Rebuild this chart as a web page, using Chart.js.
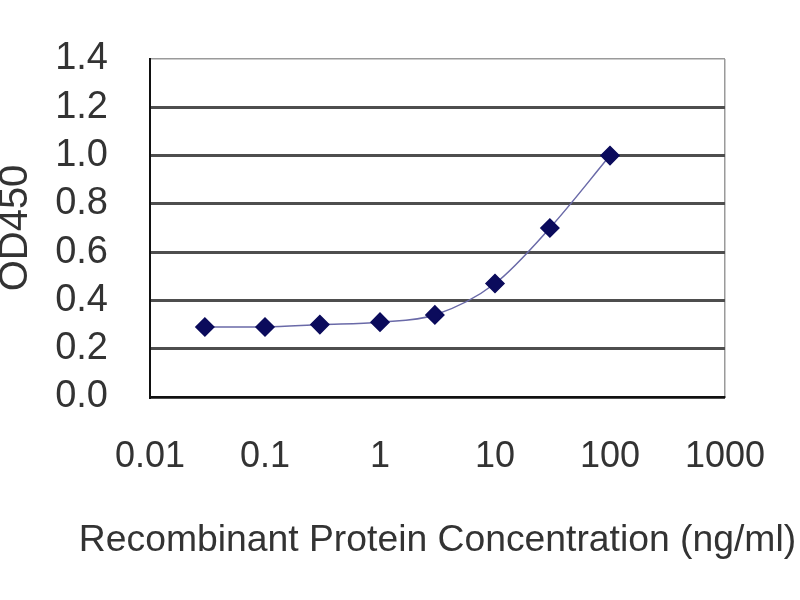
<!DOCTYPE html>
<html>
<head>
<meta charset="utf-8">
<script src="https://cdn.jsdelivr.net/npm/chart.js@4.4.1/dist/chart.umd.min.js"></script>
<style>
  html, body { margin: 0; padding: 0; background: #fff; }
  #wrap { width: 800px; height: 600px; }
</style>
</head>
<body>
<div id="wrap"><canvas id="myChart" width="800" height="600"></canvas></div>
<script>
// concentrations (ng/ml) and OD450 readings
const concentrations = [0.03, 0.1, 0.3, 1, 3, 10, 30, 100];
const od450 = [0.29, 0.29, 0.30, 0.31, 0.34, 0.47, 0.70, 1.00];
const xTickValues = [0.01, 0.1, 1, 10, 100, 1000];
const xTickLabels = ["0.01", "0.1", "1", "10", "100", "1000"];
const xTitle = "Recombinant Protein Concentration (ng/ml)";
const yTitle = "OD450";

const points = concentrations.map((c, i) => ({ x: c, y: od450[i] }));
const fam = "Arial, 'Liberation Sans', sans-serif";
const textColor = "#333";

// Chart.js squeezes an axis title to the axis width; this one is wider
// than the plot, so it is drawn here at the centre of the x axis.
const wideXTitle = {
  id: "wideXTitle",
  afterDraw(chart) {
    const ctx = chart.ctx;
    const area = chart.chartArea;
    ctx.save();
    ctx.font = "37.3px " + fam;
    ctx.fillStyle = textColor;
    ctx.textAlign = "center";
    ctx.textBaseline = "middle";
    ctx.fillText(xTitle, (area.left + area.right) / 2, 541);
    ctx.restore();
  },
};

new Chart(document.getElementById("myChart").getContext("2d"), {
  type: "line",
  data: {
    datasets: [
      {
        label: yTitle,
        data: points,
        borderColor: "#6a6aa8",
        borderWidth: 1.5,
        pointBackgroundColor: "#0b0b5c",
        pointBorderColor: "#0b0b5c",
        pointStyle: "rectRot",
        pointRadius: 9,
        cubicInterpolationMode: "monotone",
        fill: false,
      },
    ],
  },
  plugins: [wideXTitle],
  options: {
    responsive: false,
    animation: false,
    layout: { padding: { top: 59, right: 75, left: 0, bottom: 0 } },
    plugins: { legend: { display: false }, tooltip: { enabled: false } },
    scales: {
      x: {
        type: "logarithmic",
        min: 0.01,
        max: 1000,
        afterBuildTicks: (scale) => {
          scale.ticks = xTickValues.map((v) => ({ value: v }));
        },
        afterFit: (scale) => {
          scale.height = 203;
          scale.paddingLeft = 0;
          scale.paddingRight = 0;
        },
        ticks: {
          autoSkip: false,
          maxRotation: 0,
          padding: 38,
          color: textColor,
          font: { family: fam, size: 36 },
          callback: (v) => {
            const i = xTickValues.indexOf(v);
            return i >= 0 ? xTickLabels[i] : "";
          },
        },
        grid: {
          drawTicks: false,
          lineWidth: 1.5,
          color: (ctx) => (ctx.tick && ctx.tick.value === 1000 ? "#9a9a9a" : "rgba(0,0,0,0)"),
        },
        border: { color: "#111", width: 2 },
      },
      y: {
        min: 0,
        max: 1.4,
        afterFit: (scale) => {
          scale.width = 150;
          scale.paddingTop = 0;
          scale.paddingBottom = 0;
        },
        ticks: {
          stepSize: 0.2,
          autoSkip: false,
          padding: 42,
          color: textColor,
          font: { family: fam, size: 38 },
          callback: (v) => v.toFixed(1),
        },
        grid: {
          drawTicks: false,
          lineWidth: (ctx) => (ctx.tick && Math.abs(ctx.tick.value - 1.4) < 1e-6 ? 1.5 : 3),
          color: (ctx) => (ctx.tick && Math.abs(ctx.tick.value - 1.4) < 1e-6 ? "#9a9a9a" : "#4e4e4e"),
        },
        border: { color: "#111", width: 2 },
        title: {
          display: true,
          text: yTitle,
          color: textColor,
          font: { family: fam, size: 40, lineHeight: 0.8 },
          padding: { top: 0, bottom: 0 },
        },
      },
    },
  },
});
</script>
</body>
</html>
